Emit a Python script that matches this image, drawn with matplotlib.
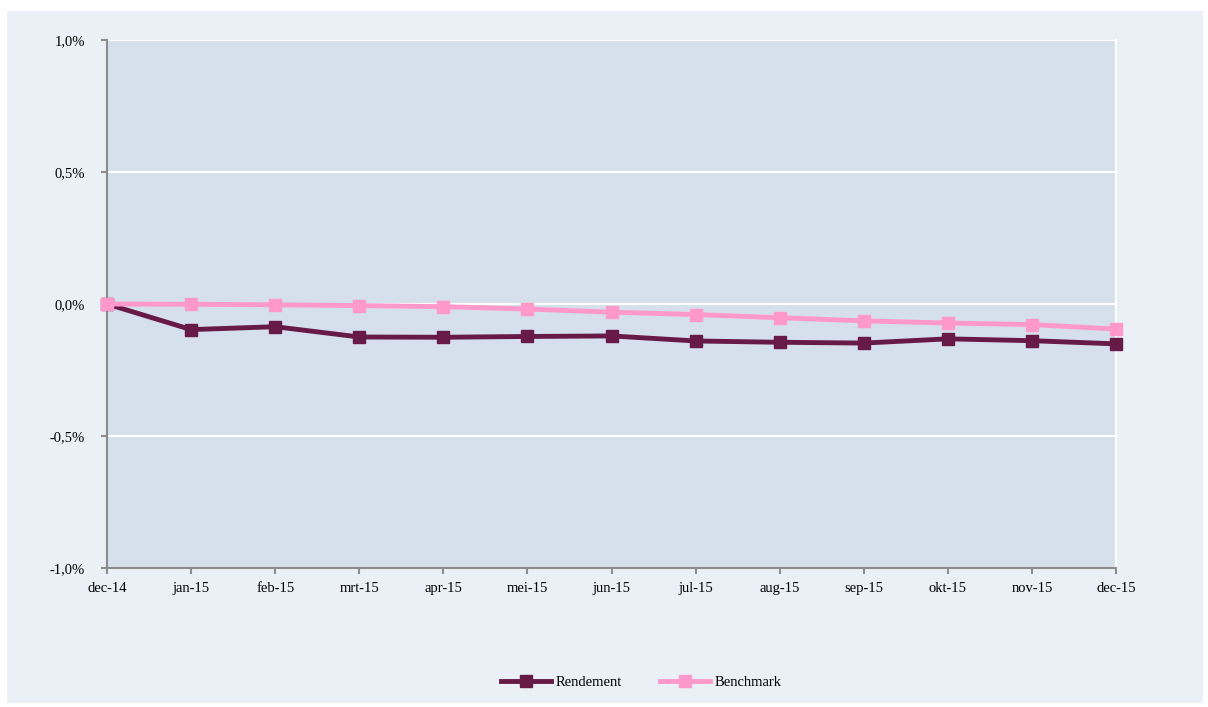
import matplotlib.pyplot as plt
from matplotlib.patches import Rectangle
from matplotlib.ticker import FuncFormatter

months = ["dec-14", "jan-15", "feb-15", "mrt-15", "apr-15", "mei-15", "jun-15",
          "jul-15", "aug-15", "sep-15", "okt-15", "nov-15", "dec-15"]
rendement = [0.0, -0.097, -0.086, -0.125, -0.126, -0.123, -0.121,
             -0.140, -0.145, -0.148, -0.132, -0.139, -0.151]
benchmark = [0.0, -0.001, -0.003, -0.006, -0.010, -0.019, -0.031,
             -0.040, -0.052, -0.064, -0.072, -0.078, -0.095]
yticks = [-1.0, -0.5, 0.0, 0.5, 1.0]

plt.rcParams["font.family"] = ["Liberation Serif", "DejaVu Serif"]

fig = plt.figure(figsize=(12.08, 7.07), dpi=100)
fig.patch.set_facecolor("white")
fig.patches.append(Rectangle((7 / 1208, 4 / 707), 1196 / 1208, 692 / 707,
                             transform=fig.transFigure, facecolor="#EBF0F7",
                             edgecolor="none", zorder=-10))

ax = fig.add_axes([107 / 1208, 1 - 568 / 707, 1009 / 1208, 528 / 707])
ax.set_zorder(1)
ax.set_facecolor("#D6DFEC")

x = list(range(len(months)))
ax.plot(x, rendement, color="#661A45", lw=3.5, marker="s", ms=8.5,
        label="Rendement", zorder=3, clip_on=False)
ax.plot(x, benchmark, color="#FF99CC", lw=3.5, marker="s", ms=8.5,
        label="Benchmark", zorder=3, clip_on=False)

ax.set_xlim(0, len(months) - 1)
ax.set_ylim(-1.0, 1.0)
ax.set_xticks(x)
ax.set_xticklabels(months)
ax.set_yticks(yticks)
ax.yaxis.set_major_formatter(FuncFormatter(lambda v, p: f"{v:.1f}%".replace(".", ",")))
ax.grid(axis="y", color="white", lw=1.5)
ax.set_axisbelow(True)

ax.spines["top"].set_visible(False)
ax.spines["right"].set_color("white")
ax.spines["right"].set_linewidth(1.5)
for s in ["left", "bottom"]:
    ax.spines[s].set_color("#8C8C8C")
    ax.spines[s].set_linewidth(1.5)
ax.tick_params(axis="both", colors="#8C8C8C", labelcolor="black",
               length=4, width=1.5, labelsize=10.5)
ax.tick_params(axis="y", pad=12)
ax.tick_params(axis="x", pad=6)

fig.legend(loc="center", bbox_to_anchor=(0.531, 1 - 682 / 707), ncol=2,
           frameon=False, fontsize=10.5, handlelength=3.4, columnspacing=2.6,
           handletextpad=0.35)

fig.savefig("out.png", dpi=100)
